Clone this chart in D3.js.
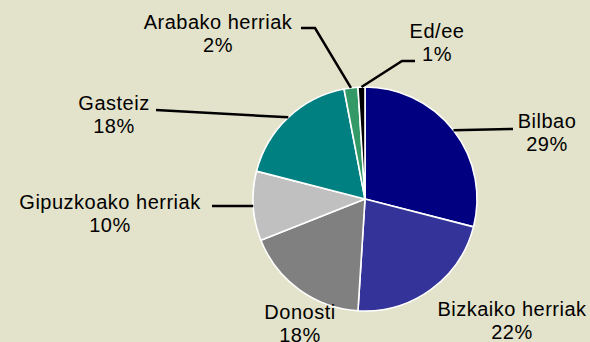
<!DOCTYPE html>
<html>
<head>
<meta charset="utf-8">
<script src="https://cdn.jsdelivr.net/npm/d3@7"></script>
<style>
  html, body { margin: 0; padding: 0; background: #E3E2CA; }
  svg { display: block; }
  text { font-family: "Liberation Sans", Arial, sans-serif; font-size: 20px; letter-spacing: 0.5px; fill: #000; }
</style>
</head>
<body>
<svg id="chart" width="590" height="342"></svg>
<script>
// Share of population by area (percent)
const categories = ["Bilbao", "Bizkaiko herriak", "Donosti", "Gipuzkoako herriak", "Gasteiz", "Arabako herriak", "Ed/ee"];
const values = [29, 22, 18, 10, 18, 2, 1];
const colors = ["#000080", "#333399", "#808080", "#C0C0C0", "#008080", "#339966", "#000000"];

// Label placement: text centre, first baseline, and leader-line path after the slice edge
const labelLayout = [
  { x: 547, y: 128, leader: [[513, 129]] },
  { x: 512, y: 316, leader: null },
  { x: 300, y: 319, leader: null },
  { x: 110, y: 209, leader: [[212, 206]] },
  { x: 114, y: 110, leader: [[156, 110]] },
  { x: 218, y: 29,  leader: [[315, 28], [301, 28]] },
  { x: 437, y: 38,  leader: [[402, 61], [415, 61]] }
];

const svg = d3.select("#chart");
const W = 590, H = 342;
svg.append("rect").attr("width", W).attr("height", H).attr("fill", "#E3E2CA");

const cx = 365, cy = 199, radius = 112;
const data = categories.map((c, i) => ({ name: c, value: values[i], color: colors[i], layout: labelLayout[i] }));

const pie = d3.pie().value(d => d.value).sort(null).startAngle(0).endAngle(2 * Math.PI);
const arc = d3.arc().innerRadius(0).outerRadius(radius);
const arcs = pie(data);

const g = svg.append("g").attr("transform", `translate(${cx},${cy})`);
g.selectAll("path.slice")
  .data(arcs)
  .enter().append("path")
  .attr("class", "slice")
  .attr("d", arc)
  .attr("fill", d => d.data.color)
  .attr("stroke", "#fff")
  .attr("stroke-width", 1.6)
  .attr("stroke-linejoin", "round");

// Leader lines from the slice edge to the label
const line = d3.line();
arcs.forEach(a => {
  const lay = a.data.layout;
  if (!lay.leader) return;
  const mid = (a.startAngle + a.endAngle) / 2;
  const edge = [cx + radius * Math.sin(mid), cy - radius * Math.cos(mid)];
  svg.append("path")
    .attr("d", line([edge, ...lay.leader]))
    .attr("fill", "none")
    .attr("stroke", "#000")
    .attr("stroke-width", 2.5);
});

// Labels: name and rounded percentage
const total = d3.sum(values);
arcs.forEach(a => {
  const lay = a.data.layout;
  const t = svg.append("text").attr("text-anchor", "middle");
  t.append("tspan").attr("x", lay.x).attr("y", lay.y).text(a.data.name);
  t.append("tspan").attr("x", lay.x).attr("y", lay.y + 23).text(Math.round(a.data.value / total * 100) + "%");
});
</script>
</body>
</html>
